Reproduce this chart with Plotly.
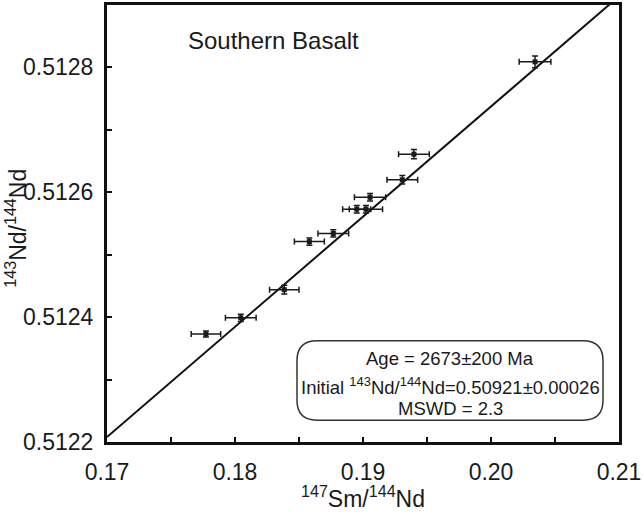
import plotly.graph_objects as go

# ---- data ----
sm_nd = [0.17773, 0.18045, 0.18385, 0.18581, 0.18768, 0.18951, 0.19023, 0.19055, 0.19307, 0.19398, 0.20344]
nd_nd = [0.512373, 0.512399, 0.512444, 0.512521, 0.512534, 0.512573, 0.512573, 0.512592, 0.512620, 0.512661, 0.512809]
sm_err = [0.00115, 0.0012, 0.00115, 0.00117, 0.0012, 0.0011, 0.0013, 0.00122, 0.0012, 0.0012, 0.00124]
nd_err = [0.0000048, 0.0000058, 0.0000069, 0.0000058, 0.0000058, 0.000006, 0.000006, 0.000006, 0.0000069, 0.0000074, 0.0000095]

iso_x = [0.17, 0.21]
iso_y = [0.512208, 0.512914]

x_ticks = [0.17, 0.18, 0.19, 0.20, 0.21]
x_labels = ["0.17", "0.18", "0.19", "0.20", "0.21"]
y_ticks = [0.5122, 0.5124, 0.5126, 0.5128]
y_labels = ["0.5122", "0.5124", "0.5126", "0.5128"]

FONT = "Liberation Sans, Arial, sans-serif"

fig = go.Figure()
fig.add_trace(go.Scatter(x=iso_x, y=iso_y, mode="lines",
                         line=dict(color="#111", width=2), hoverinfo="skip"))
fig.add_trace(go.Scatter(
    x=sm_nd, y=nd_nd, mode="markers",
    marker=dict(symbol="square", size=5, color="#1a1a1a"),
    error_x=dict(type="data", array=sm_err, color="#1a1a1a", thickness=1.5, width=3),
    error_y=dict(type="data", array=nd_err, color="#1a1a1a", thickness=1.5, width=3),
))

axis_common = dict(showgrid=False, zeroline=False, showline=True, linecolor="#111",
                   linewidth=3, mirror=True, ticks="inside", ticklen=5, tickwidth=2,
                   tickcolor="#111")

fig.update_xaxes(range=[0.17, 0.21], tickvals=x_ticks, ticktext=x_labels,
                 tickfont=dict(family=FONT, size=23, color="#1a1a1a"),
                 minor=dict(dtick=0.005, tick0=0.17, ticks="inside", ticklen=5, tickwidth=2, tickcolor="#111"),
                 ticklabelstandoff=7, **axis_common)
fig.update_yaxes(range=[0.5122, 0.5129], tickvals=y_ticks, ticktext=y_labels,
                 tickfont=dict(family=FONT, size=23, color="#1a1a1a"),
                 minor=dict(dtick=0.0001, tick0=0.5122, ticks="inside", ticklen=5, tickwidth=2, tickcolor="#111"),
                 ticklabelstandoff=6, **axis_common)

# rounded box (paper coords)
x0, x1, y0, y1 = 0.3711, 0.96875, 0.05, 0.2318
rx, ry = 0.039, 0.0455
path = (f"M {x0+rx},{y1} L {x1-rx},{y1} Q {x1},{y1} {x1},{y1-ry} "
        f"L {x1},{y0+ry} Q {x1},{y0} {x1-rx},{y0} L {x0+rx},{y0} "
        f"Q {x0},{y0} {x0},{y0+ry} L {x0},{y1-ry} Q {x0},{y1} {x0+rx},{y1} Z")
fig.add_shape(type="path", path=path, xref="paper", yref="paper",
              line=dict(color="#333", width=1.5), fillcolor="white")

box_font = dict(family=FONT, size=18.5, color="#1a1a1a")
for txt, yy in [("Age = 2673±200 Ma", 0.192),
                ("Initial <sup>143</sup>Nd/<sup>144</sup>Nd=0.50921±0.00026", 0.128),
                ("MSWD = 2.3", 0.0773)]:
    fig.add_annotation(text=txt, x=0.67, y=yy, xref="paper", yref="paper",
                       showarrow=False, xanchor="center", yanchor="middle", font=box_font)

fig.add_annotation(text="Southern Basalt", x=0.326, y=0.918, xref="paper", yref="paper",
                   showarrow=False, xanchor="center", yanchor="middle",
                   font=dict(family=FONT, size=24, color="#1a1a1a"))

fig.add_annotation(text="<sup>147</sup>Sm/<sup>144</sup>Nd", x=0.5, y=-0.125,
                   xref="paper", yref="paper", showarrow=False,
                   xanchor="center", yanchor="middle",
                   font=dict(family=FONT, size=23, color="#1a1a1a"))
fig.add_annotation(text="<sup>143</sup>Nd/<sup>144</sup>Nd", x=-0.177, y=0.489,
                   xref="paper", yref="paper", showarrow=False, textangle=-90,
                   xanchor="center", yanchor="middle",
                   font=dict(family=FONT, size=23, color="#1a1a1a"))

fig.update_layout(width=644, height=520, showlegend=False,
                  margin=dict(l=107, r=25, t=2, b=78),
                  paper_bgcolor="white", plot_bgcolor="white")

fig.write_html("out.html")
